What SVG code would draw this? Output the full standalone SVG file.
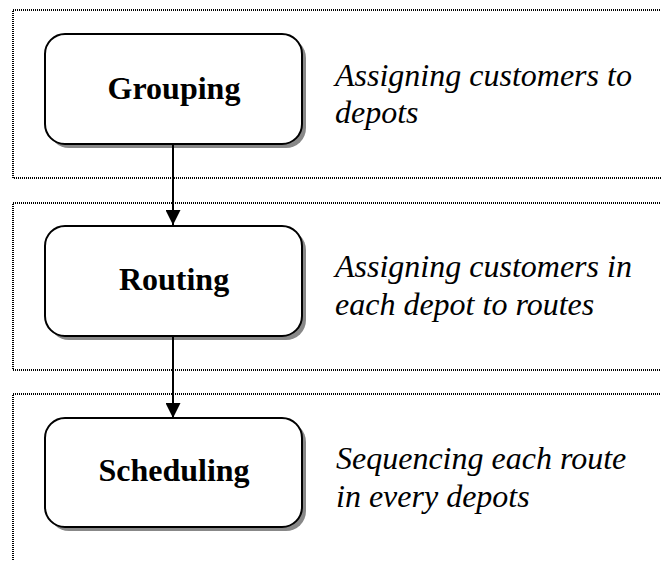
<svg xmlns="http://www.w3.org/2000/svg" width="661" height="561" viewBox="0 0 661 561">
<style>
.panel{fill:none;stroke:#000;stroke-width:2;stroke-dasharray:1 1}
.box{fill:#fff;stroke:#000;stroke-width:2}
.shadow{fill:#888}
.lbl{font-family:"Liberation Serif","Times New Roman",serif;font-weight:bold;font-size:32px;fill:#000;text-anchor:middle}
.desc{font-family:"Liberation Serif","Times New Roman",serif;font-style:italic;font-size:32px;fill:#000}
.conn{stroke:#000;stroke-width:2;fill:none}
</style>
<defs>
<marker id="ah" markerWidth="15" markerHeight="15" refX="15" refY="7.5" orient="auto" markerUnits="userSpaceOnUse">
<path d="M0,0 L15,7.5 L0,15 Z" fill="#000"/>
</marker>
</defs>
<g id="panels">
<path class="panel" d="M670,10 H13 V178 H670"/>
<path class="panel" d="M670,203 H13 V370 H670"/>
<path class="panel" d="M670,394 H13 V570"/>
</g>
<g id="grouping">
<rect class="shadow" x="49" y="38" width="257" height="110" rx="20"/>
<rect class="box" x="45" y="34" width="257" height="110" rx="20"/>
<text class="lbl" x="174" y="99">Grouping</text>
</g>
<g id="grouping-desc">
<text class="desc" x="335" y="86">Assigning customers to</text>
<text class="desc" x="335" y="123">depots</text>
</g>
<g id="routing">
<rect class="shadow" x="49" y="230" width="257" height="110" rx="20"/>
<rect class="box" x="45" y="226" width="257" height="110" rx="20"/>
<text class="lbl" x="174" y="290">Routing</text>
</g>
<g id="routing-desc">
<text class="desc" x="335" y="277">Assigning customers in</text>
<text class="desc" x="335" y="315">each depot to routes</text>
</g>
<g id="scheduling">
<rect class="shadow" x="49" y="422" width="257" height="109" rx="20"/>
<rect class="box" x="45" y="418" width="257" height="109" rx="20"/>
<text class="lbl" x="174" y="481">Scheduling</text>
</g>
<g id="scheduling-desc">
<text class="desc" x="336" y="469">Sequencing each route</text>
<text class="desc" x="336" y="507">in every depots</text>
</g>
<g id="connectors">
<line class="conn" x1="173" y1="145" x2="173" y2="225" marker-end="url(#ah)"/>
<line class="conn" x1="173" y1="337" x2="173" y2="418" marker-end="url(#ah)"/>
</g>
</svg>
